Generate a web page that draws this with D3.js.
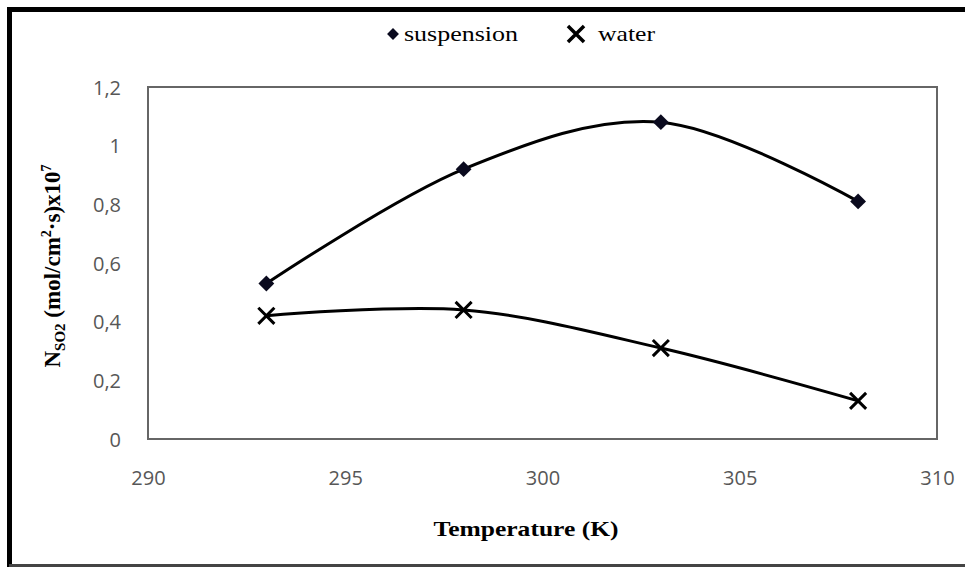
<!DOCTYPE html>
<html>
<head>
  <meta charset="utf-8">
  <script src="https://cdn.jsdelivr.net/npm/d3@7"></script>
  <style>
    body { margin: 0; background: #fff; }
    svg { display: block; }
  </style>
</head>
<body>
  <svg id="chart" width="965" height="567"></svg>
  <script>
    // data
    var temps = [293, 298, 303, 308];
    var suspension = [0.53, 0.92, 1.08, 0.81];
    var water = [0.42, 0.44, 0.31, 0.13];
    var xTicks = [290, 295, 300, 305, 310];
    var yTicks = [0, 0.2, 0.4, 0.6, 0.8, 1, 1.2];
    var yTickLabels = ["0", "0,2", "0,4", "0,6", "0,8", "1", "1,2"];

    var svg = d3.select("#chart");

    // outer frame
    svg.append("path")
      .attr("d", "M9.5,975 L9.5,9.5 L975,9.5")
      .attr("fill", "none").attr("stroke", "#000").attr("stroke-width", 5);
    svg.append("line")
      .attr("x1", 9).attr("x2", 965).attr("y1", 565.5).attr("y2", 565.5)
      .attr("stroke", "#444").attr("stroke-width", 3);

    var x = d3.scaleLinear().domain([290, 310]).range([148, 937]);
    var y = d3.scaleLinear().domain([0, 1.2]).range([439, 87]);

    // plot box
    svg.append("rect")
      .attr("x", x(290)).attr("y", y(1.2))
      .attr("width", x(310) - x(290)).attr("height", y(0) - y(1.2))
      .attr("fill", "none").attr("stroke", "#666").attr("stroke-width", 2);

    // axes (labels only)
    var yAxis = svg.append("g")
      .attr("transform", "translate(" + (x(290) - 24) + ",0)")
      .call(d3.axisLeft(y).tickValues(yTicks).tickSize(0)
        .tickFormat(function(d, i) { return yTickLabels[i]; }));
    var xAxis = svg.append("g")
      .attr("transform", "translate(0," + (y(0) + 29) + ")")
      .call(d3.axisBottom(x).tickValues(xTicks).tickSize(0).tickFormat(d3.format("d")));
    [yAxis, xAxis].forEach(function(g) {
      g.select(".domain").remove();
      g.selectAll("text")
        .attr("font-family", "'Open Sans', sans-serif")
        .attr("font-size", 20).attr("fill", "#575757");
    });
    yAxis.selectAll("text").attr("dy", "0.35em");

    // smoothed lines
    var line = d3.line()
      .x(function(d) { return x(d[0]); })
      .y(function(d) { return y(d[1]); })
      .curve(d3.curveCardinal.tension(0));

    var suspData = temps.map(function(t, i) { return [t, suspension[i]]; });
    var waterData = temps.map(function(t, i) { return [t, water[i]]; });

    [suspData, waterData].forEach(function(data) {
      svg.append("path")
        .attr("d", line(data))
        .attr("fill", "none").attr("stroke", "#000").attr("stroke-width", 3);
    });

    var diamond = d3.symbol().type(d3.symbolDiamond2).size(160);
    svg.selectAll(".susp").data(suspData).enter().append("path")
      .attr("class", "susp")
      .attr("transform", function(d) { return "translate(" + x(d[0]) + "," + y(d[1]) + ")"; })
      .attr("d", diamond)
      .attr("fill", "#0a0a1e");

    var cross = d3.symbol().type(d3.symbolTimes).size(170);
    svg.selectAll(".wat").data(waterData).enter().append("path")
      .attr("class", "wat")
      .attr("transform", function(d) { return "translate(" + x(d[0]) + "," + y(d[1]) + ")"; })
      .attr("d", cross)
      .attr("fill", "none").attr("stroke", "#000").attr("stroke-width", 3);

    // legend
    var legend = svg.append("g");
    legend.append("path")
      .attr("transform", "translate(393,34)")
      .attr("d", d3.symbol().type(d3.symbolDiamond2).size(90))
      .attr("fill", "#0a0a1e");
    legend.append("text").attr("x", 404).attr("y", 41)
      .attr("textLength", 114).attr("lengthAdjust", "spacingAndGlyphs")
      .text("suspension");
    legend.append("path")
      .attr("transform", "translate(576,34)")
      .attr("d", d3.symbol().type(d3.symbolTimes).size(170))
      .attr("fill", "none").attr("stroke", "#000").attr("stroke-width", 3.5);
    legend.append("text").attr("x", 598).attr("y", 41)
      .attr("textLength", 57).attr("lengthAdjust", "spacingAndGlyphs")
      .text("water");
    legend.selectAll("text")
      .attr("font-family", "'Liberation Serif', serif")
      .attr("font-size", 22).attr("fill", "#000");

    // axis titles
    svg.append("text")
      .attr("x", 526).attr("y", 536)
      .attr("text-anchor", "middle")
      .attr("font-family", "'Liberation Serif', serif")
      .attr("font-weight", "bold").attr("font-size", 22)
      .attr("textLength", 185).attr("lengthAdjust", "spacingAndGlyphs")
      .text("Temperature (K)");

    var yt = svg.append("text")
      .attr("transform", "translate(60,266) rotate(-90)")
      .attr("text-anchor", "middle")
      .attr("font-family", "'Liberation Serif', serif")
      .attr("font-weight", "bold").attr("font-size", 23);
    yt.append("tspan").text("N");
    yt.append("tspan").attr("font-size", 15).attr("dy", 5).text("SO2");
    yt.append("tspan").attr("dy", -5).text(" (mol/cm");
    yt.append("tspan").attr("font-size", 14).attr("dy", -9).text("2");
    yt.append("tspan").attr("dy", 9).text("·s)x10");
    yt.append("tspan").attr("font-size", 14).attr("dy", -9).text("7");
  </script>
</body>
</html>
